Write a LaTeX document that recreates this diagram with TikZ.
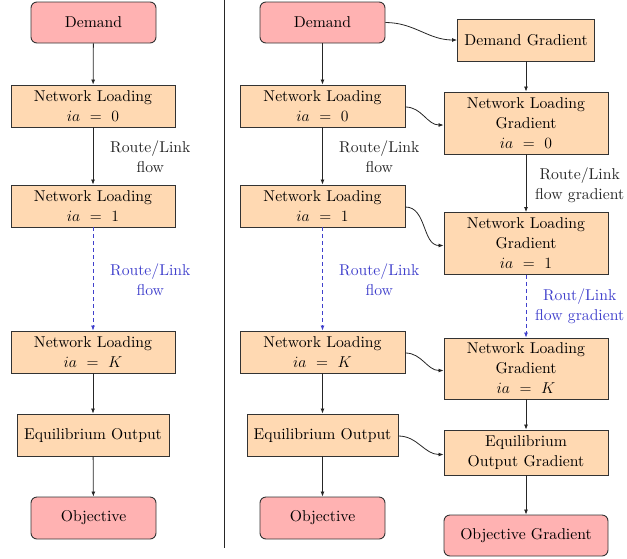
\documentclass[tikz,border=0pt]{standalone}
\usepackage{fix-cm}
\usepackage{fontspec}
\setmainfont{lmroman10-regular.otf}[ItalicFont=lmroman10-italic.otf, BoldFont=lmroman10-bold.otf]
\usetikzlibrary{arrows.meta}
\definecolor{lblblue}{rgb}{0.25,0.25,0.80}
\tikzset{
  every node/.style={font=\fontsize{15.7}{20}\selectfont},
  basebox/.style={draw=black!80, line width=0.9pt, align=center, inner sep=0pt},
  obox/.style={basebox, fill=orange!30},
  pbox/.style={basebox, fill=red!30, rounded corners=6pt},
  arr/.style={draw=black!85, line width=0.8pt, -{Latex[length=5pt,width=4pt]}},
  darr/.style={draw=lblblue, line width=0.8pt, dashed, dash pattern=on 4pt off 3pt, -{Latex[length=5pt,width=4pt]}},
  lbl/.style={align=center, inner sep=0pt, text=black!85},
  blbl/.style={align=center, inner sep=0pt, text=lblblue},
}
\begin{document}
\begin{tikzpicture}[x=1pt,y=-1pt]
\useasboundingbox (0,0) rectangle (627,558);
\clip (0,0) rectangle (627,558);
% left column
\node[pbox, minimum width=125pt, minimum height=41pt] (dL) at (93.5,22.5) {Demand};
\node[obox, minimum width=164pt, minimum height=42pt] (aL) at (93,106) {Network Loading\\$ia\ =\ 0$};
\node[obox, minimum width=164pt, minimum height=42pt] (bL) at (93,206) {Network Loading\\$ia\ =\ 1$};
\node[obox, minimum width=164pt, minimum height=42pt] (kL) at (93,352) {Network Loading\\$ia\ =\ K$};
\node[obox, minimum width=152pt, minimum height=42pt] (eL) at (93,435) {Equilibrium Output};
\node[pbox, minimum width=125pt, minimum height=42pt] (oL) at (93.5,518) {Objective};
\node[lbl, anchor=west] (lab1) at (110,157) {Route/Link\\flow};
\node[blbl, anchor=west] (lab2) at (110,280) {Route/Link\\flow};
\draw[arr] (dL) -- (aL);
\draw[arr] (aL) -- (bL);
\draw[darr] (bL) -- (kL);
\draw[arr] (kL) -- (eL);
\draw[arr] (eL) -- (oL);
% separator
\coordinate (s1) at (224,0);
\coordinate (s2) at (224,548);
\draw[black!85, line width=0.8pt] (s1) -- (s2);
% right column
\node[pbox, minimum width=125pt, minimum height=41pt] (dR) at (322.5,22.5) {Demand};
\node[obox, minimum width=165pt, minimum height=42pt] (aR) at (322.5,106) {Network Loading\\$ia\ =\ 0$};
\node[obox, minimum width=165pt, minimum height=42pt] (bR) at (322.5,206) {Network Loading\\$ia\ =\ 1$};
\node[obox, minimum width=165pt, minimum height=42pt] (kR) at (322.5,352) {Network Loading\\$ia\ =\ K$};
\node[obox, minimum width=151pt, minimum height=42pt] (eR) at (322.5,435) {Equilibrium Output};
\node[pbox, minimum width=125pt, minimum height=42pt] (oR) at (322.5,518) {Objective};
\node[lbl, anchor=west] (lab3) at (339,157) {Route/Link\\flow};
\node[blbl, anchor=west] (lab4) at (339,280) {Route/Link\\flow};
\draw[arr] (dR) -- (aR);
\draw[arr] (aR) -- (bR);
\draw[darr] (bR) -- (kR);
\draw[arr] (kR) -- (eR);
\draw[arr] (eR) -- (oR);
% gradient column
\node[obox, minimum width=137pt, minimum height=42pt] (dG) at (526,40) {Demand Gradient};
\node[obox, minimum width=164pt, minimum height=62pt] (aG) at (526,123) {Network Loading\\Gradient\\$ia\ =\ 0$};
\node[obox, minimum width=164pt, minimum height=62pt] (bG) at (526,243.5) {Network Loading\\Gradient\\$ia\ =\ 1$};
\node[obox, minimum width=164pt, minimum height=61pt] (kG) at (526,368.5) {Network Loading\\Gradient\\$ia\ =\ K$};
\node[obox, minimum width=164pt, minimum height=45pt] (eG) at (526,452.5) {Equilibrium\\Output Gradient};
\node[pbox, minimum width=164pt, minimum height=41pt] (oG) at (526,535.5) {Objective Gradient};
\node[lbl, anchor=west] (lab5) at (535,185) {Route/Link\\flow gradient};
\node[blbl, anchor=west] (lab6) at (535,306) {Rout/Link\\flow gradient};
\draw[arr] (dG) -- (aG);
\draw[arr] (aG) -- (bG);
\draw[darr] (bG) -- (kG);
\draw[arr] (kG) -- (eG);
\draw[arr] (eG) -- (oG);
% cross connectors
\draw[arr] (dR.east) to[out=0,in=180] (dG.west);
\draw[arr] ([yshift=-1pt]aR.east) to[out=0,in=180] ([yshift=-2pt]aG.west);
\draw[arr] ([yshift=-1pt]bR.east) to[out=0,in=180] ([yshift=-2pt]bG.west);
\draw[arr] ([yshift=-1pt]kR.east) to[out=0,in=180] ([yshift=-2pt]kG.west);
\draw[arr] ([yshift=-1pt]eR.east) to[out=0,in=180] ([yshift=-2pt]eG.west);
\end{tikzpicture}
\end{document}
